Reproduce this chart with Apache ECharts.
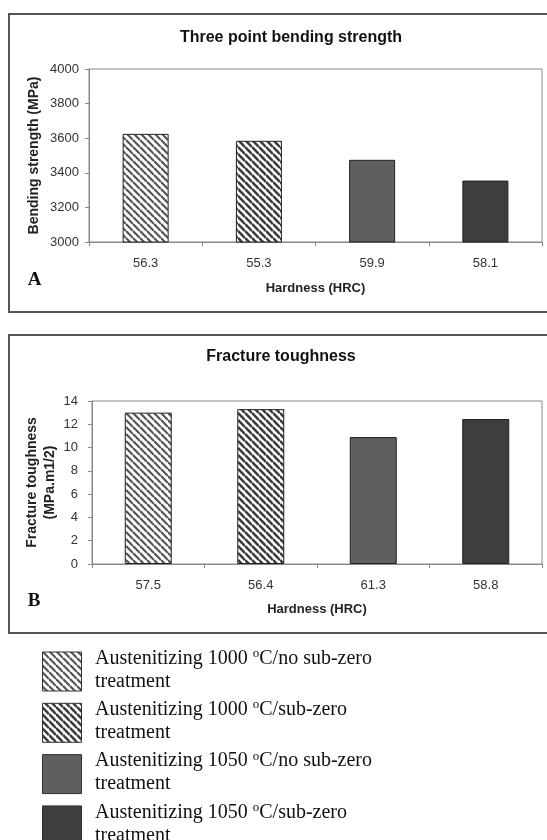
<!DOCTYPE html>
<html><head><meta charset="utf-8">
<script src="https://cdn.jsdelivr.net/npm/echarts@6/dist/echarts.min.js"></script>
<style>html,body{margin:0;padding:0;background:#fff}#c{width:547px;height:840px}</style>
</head><body><div id="c"></div>
<script>
// ---- data ----
const hardnessA = ['56.3', '55.3', '59.9', '58.1'];
const bendingStrength = [3625, 3585, 3475, 3355];
const hardnessB = ['57.5', '56.4', '61.3', '58.8'];
const fractureToughness = [13.0, 13.3, 10.9, 12.45];
const bendingAxis = { min: 3000, max: 4000, interval: 200 };
const toughnessAxis = { min: 0, max: 14, interval: 2 };
const titleA = 'Three point bending strength';
const titleB = 'Fracture toughness';
const yNameA = 'Bending strength (MPa)';
const yNameB = 'Fracture toughness\n(MPa.m1/2)';
const xName = 'Hardness (HRC)';
const legendTemps = ['1000', '1000', '1050', '1050'];
const legendTreatments = ['no sub-zero', 'sub-zero', 'no sub-zero', 'sub-zero'];

// ---- styles ----
function hatch(p, lw, color) {
  const c = document.createElement('canvas');
  c.width = p; c.height = p;
  const ctx = c.getContext('2d');
  ctx.fillStyle = '#fff'; ctx.fillRect(0, 0, p, p);
  ctx.strokeStyle = color; ctx.lineWidth = lw;
  for (const k of [-p, 0, p]) {
    ctx.beginPath(); ctx.moveTo(0, k); ctx.lineTo(p, p + k); ctx.stroke();
  }
  return c;
}
const fills = [
  { image: hatch(7, 2.2, '#555'), repeat: 'repeat' },
  { image: hatch(7, 2.6, '#3c3c3c'), repeat: 'repeat' },
  '#5f5f5f',
  '#3e3e3e'
];
const SANS = '"Liberation Sans", Arial, sans-serif';
const SERIF = '"Liberation Serif", "Times New Roman", serif';
const axisGray = '#888';

function xAxisCfg(gridIndex, data, labelMargin, gap) {
  return {
    type: 'category', gridIndex, data,
    axisLine: { lineStyle: { color: axisGray, width: 1 } },
    axisTick: { show: true, length: 4, lineStyle: { color: axisGray } },
    axisLabel: { color: '#333', fontFamily: SANS, fontSize: 13, margin: labelMargin },
    name: xName, nameLocation: 'middle', nameGap: gap, nameMoveOverlap: false,
    nameTextStyle: { color: '#222', fontFamily: SANS, fontSize: 13, fontWeight: 'bold' }
  };
}
function yAxisCfg(gridIndex, rng, name, gap, labelMargin, lh) {
  return {
    type: 'value', gridIndex, min: rng.min, max: rng.max, interval: rng.interval,
    splitLine: { show: false },
    axisLine: { show: true, lineStyle: { color: axisGray, width: 1 } },
    axisTick: { show: true, length: 4, lineStyle: { color: axisGray } },
    axisLabel: { color: '#333', fontFamily: SANS, fontSize: 13, margin: labelMargin, formatter: v => String(v) },
    name, nameLocation: 'middle', nameGap: gap, nameMoveOverlap: false,
    nameTextStyle: { color: '#222', fontFamily: SANS, fontSize: 14, fontWeight: 'bold', lineHeight: lh }
  };
}
function barSeries(idx, values, width) {
  return {
    type: 'bar', xAxisIndex: idx, yAxisIndex: idx, barWidth: width,
    silent: true,
    itemStyle: { borderColor: '#222', borderWidth: 1 },
    data: values.map((v, i) => ({ value: v, itemStyle: { color: fills[i] } }))
  };
}

// legend graphics
const legendEls = [];
const legTop0 = 652, legStep = 51.3;
legendTemps.forEach((t, i) => {
  const top = legTop0 + i * legStep;
  legendEls.push({
    type: 'rect', shape: { x: 42.5, y: top, width: 39, height: 39 },
    style: { fill: fills[i], stroke: '#333', lineWidth: 1 }
  });
  legendEls.push({
    type: 'text', x: 95, y: top + 18,
    style: {
      text: 'Austenitizing ' + t + ' {sup|o}C/' + legendTreatments[i] + '\ntreatment',
      font: '20px ' + SERIF, lineHeight: 23, fill: '#111',
      textAlign: 'left', textVerticalAlign: 'middle',
      rich: { sup: { fontSize: 13, fontFamily: SERIF, lineHeight: 13, verticalAlign: 'top', fill: '#111' } }
    }
  });
});

const chart = echarts.init(document.getElementById('c'), null, { renderer: 'canvas' });
chart.setOption({
  animation: false,
  backgroundColor: '#fff',
  grid: [
    { left: 89, top: 69, width: 453, height: 173, show: true, borderColor: axisGray, borderWidth: 1, containLabel: false },
    { left: 92, top: 401, width: 450, height: 163, show: true, borderColor: axisGray, borderWidth: 1, containLabel: false }
  ],
  xAxis: [xAxisCfg(0, hardnessA, 14.5, 40), xAxisCfg(1, hardnessB, 15, 39)],
  yAxis: [
    yAxisCfg(0, bendingAxis, yNameA, 47, 10, 16),
    yAxisCfg(1, toughnessAxis, yNameB, 33, 14, 18)
  ],
  series: [barSeries(0, bendingStrength, 46), barSeries(1, fractureToughness, 47)],
  graphic: [
    { type: 'rect', shape: { x: 9, y: 14, width: 560, height: 298 }, style: { fill: 'none', stroke: '#555', lineWidth: 2 } },
    { type: 'rect', shape: { x: 9, y: 335, width: 560, height: 298 }, style: { fill: 'none', stroke: '#555', lineWidth: 2 } },
    { type: 'text', x: 291, y: 38, style: { text: titleA, font: 'bold 16px ' + SANS, fill: '#111', textAlign: 'center', textVerticalAlign: 'middle' } },
    { type: 'text', x: 281, y: 357, style: { text: titleB, font: 'bold 16px ' + SANS, fill: '#111', textAlign: 'center', textVerticalAlign: 'middle' } },
    { type: 'text', x: 34.5, y: 280, style: { text: 'A', font: 'bold 19px ' + SERIF, fill: '#111', textAlign: 'center', textVerticalAlign: 'middle' } },
    { type: 'text', x: 34, y: 601, style: { text: 'B', font: 'bold 19px ' + SERIF, fill: '#111', textAlign: 'center', textVerticalAlign: 'middle' } }
  ].concat(legendEls)
});
</script>
</body></html>
